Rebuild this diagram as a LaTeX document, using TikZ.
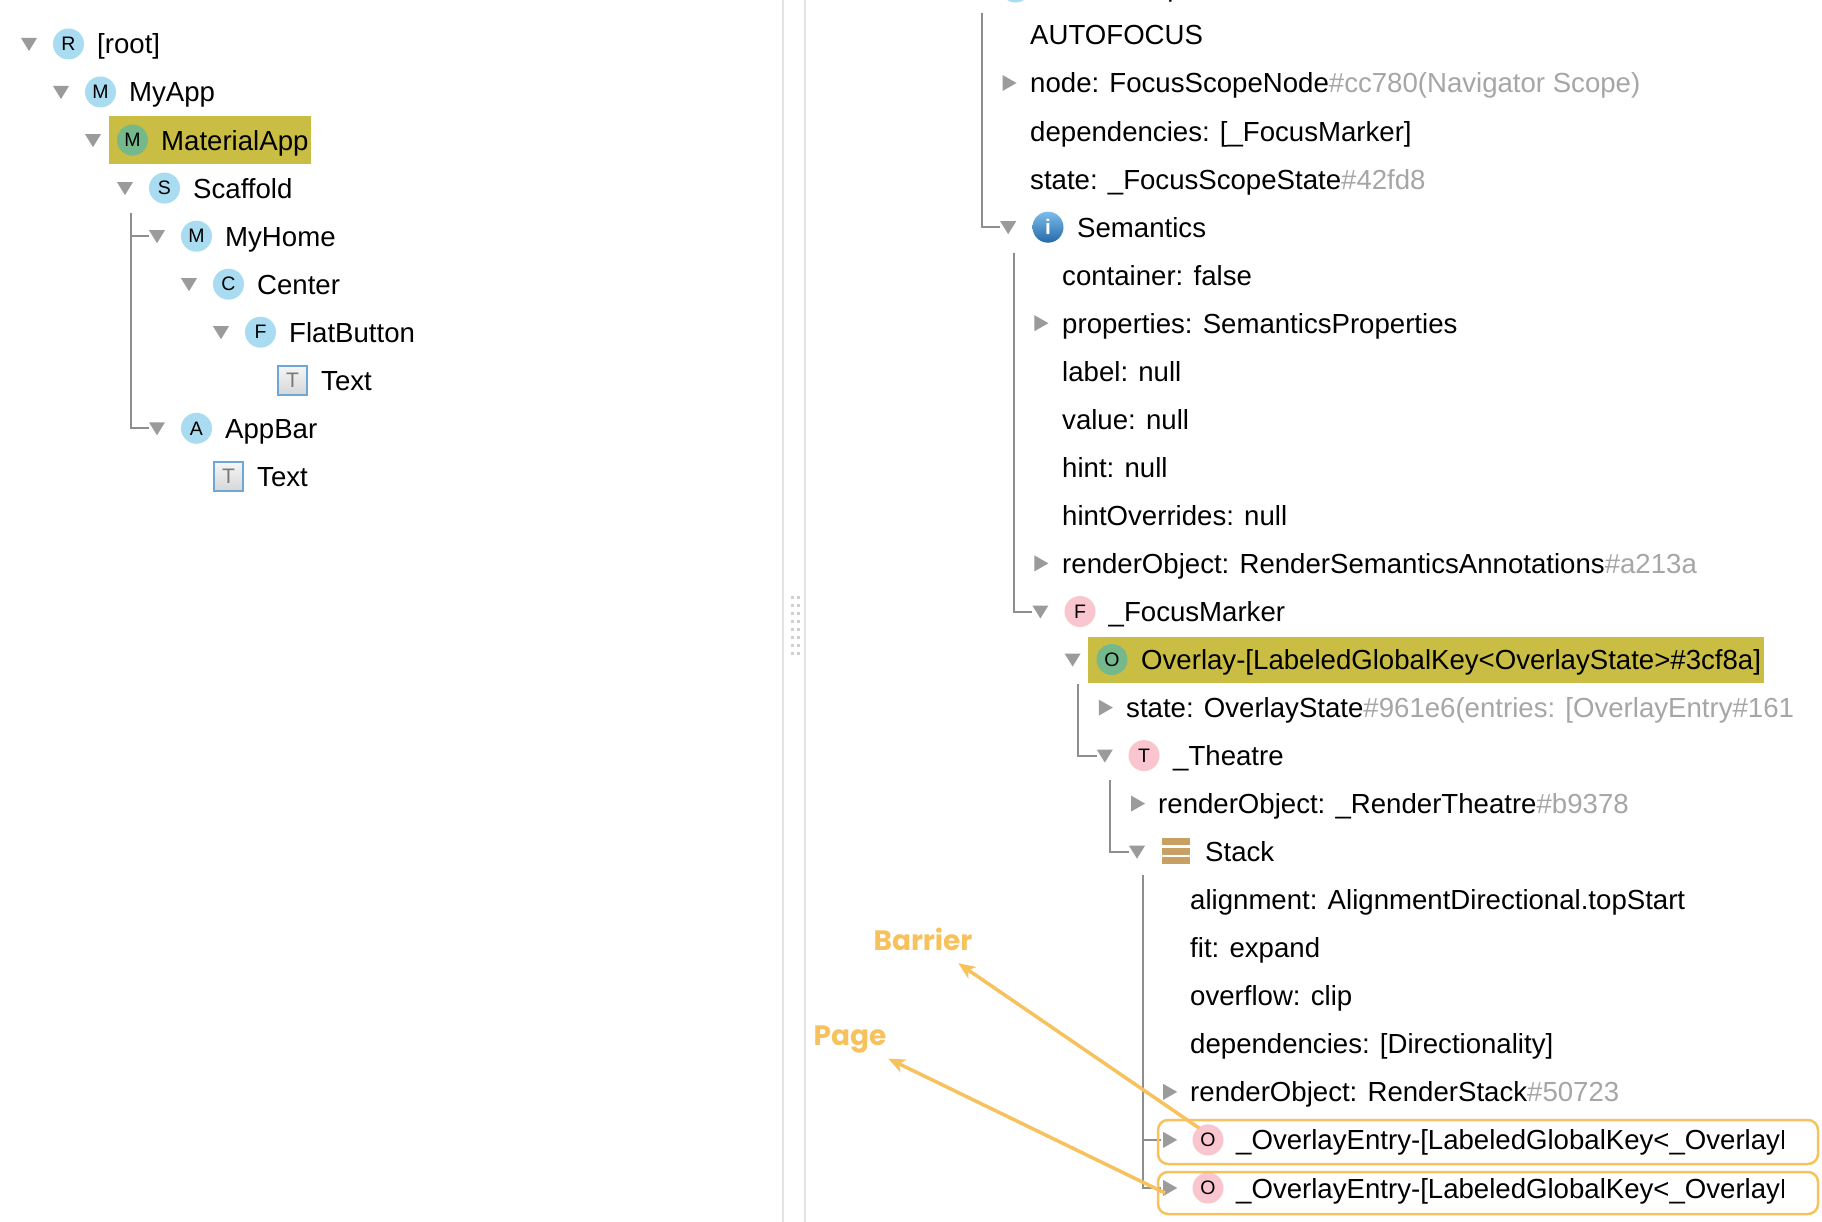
\documentclass[tikz,border=0pt]{standalone}
\usepackage{fontspec}
\setmainfont{Liberation Sans}
\newfontfamily\handfont{Poppins}
\usetikzlibrary{arrows.meta,calc,backgrounds}
\definecolor{trig}{HTML}{9B9B9B}
\definecolor{treeln}{HTML}{8E8E8E}
\definecolor{lblue}{HTML}{A9DBF1}
\definecolor{pinkc}{HTML}{F9C6CF}
\definecolor{hil}{HTML}{C9BD44}
\definecolor{hilc}{HTML}{74B88C}
\definecolor{grayt}{HTML}{A6A6A6}
\definecolor{orng}{HTML}{F7C25E}
\definecolor{divd}{HTML}{E4E4E4}
\definecolor{dotc}{HTML}{CFCFCF}
\definecolor{tboxb}{HTML}{6EA6D6}
\definecolor{tboxa}{HTML}{F6F6F6}
\definecolor{tboxz}{HTML}{D6D6D6}
\definecolor{tgray}{HTML}{7A7A7A}
\definecolor{stackc}{HTML}{C8A064}
\definecolor{infoa}{HTML}{7DBDEB}
\definecolor{infob}{HTML}{2468A8}
\begin{document}
\begin{tikzpicture}[x=1pt,y=-1pt,
  lbl/.style={anchor=base west, inner sep=0pt, font=\fontsize{27.6}{30}\selectfont},
  bubble/.style={circle, minimum size=31pt, inner sep=0pt, font=\fontsize{19.5}{19.5}\selectfont, text=black},
  blue bubble/.style={bubble, fill=lblue},
  pink bubble/.style={bubble, fill=pinkc},
  sel bubble/.style={bubble, fill=hilc},
  tbox/.style={draw=tboxb, line width=1.5pt, minimum size=29pt, inner sep=0pt, top color=tboxa, bottom color=tboxz, text=tgray, font=\fontsize{21}{21}\selectfont},
  treeline/.style={draw=treeln, line width=2pt},
  hand/.style={font=\handfont\bfseries\fontsize{28}{28}\selectfont, text=orng, inner sep=0pt, minimum height=48pt},
  arr/.style={draw=orng, line width=3.5pt, -{Stealth[length=17pt,width=14pt,inset=5pt]}},
  entrybox/.style={draw=orng, line width=2.5pt, rounded corners=10pt},
  tdn/.pic={\fill[trig] (-8,-6) -- (8,-6) -- (0,7) -- cycle;},
  trt/.pic={\fill[trig] (-6,-8) -- (-6,8) -- (8,0) -- cycle;}
]
\useasboundingbox (0,0) rectangle (1822,1222);
\clip (0,0) rectangle (1822,1222);
\begin{scope}[on background layer]
  \fill[white] (0,0) rectangle (1822,1222);
\end{scope}

% ---------- panel divider ----------
\draw[divd, line width=2.5pt] (783,0) -- (783,1222);
\draw[divd, line width=2.5pt] (805,0) -- (805,1222);
\foreach \yy in {597,605,613,621,629,637,645,653}{
  \fill[dotc] (790.5,\yy-1.5) rectangle +(3,3);
  \fill[dotc] (796.5,\yy-1.5) rectangle +(3,3);
}

% ---------- left tree ----------
\pic at (29,44) {tdn};
\node[blue bubble] (c-root) at (68.5,44) {R};
\node[lbl] (t-root) at (97,54) {\relax[root]};

\pic at (61,92) {tdn};
\node[blue bubble] (c-myapp) at (100.5,92) {M};
\node[lbl] (t-myapp) at (129,102) {MyApp};

\pic at (93,140.1) {tdn};
\node[sel bubble] (c-mat) at (132.5,140.1) {M};
\node[lbl] (t-mat) at (161,150.1) {MaterialApp};

\pic at (125,188.1) {tdn};
\node[blue bubble] (c-scaf) at (164.5,188.1) {S};
\node[lbl] (t-scaf) at (193,198.1) {Scaffold};

\pic at (157,236.2) {tdn};
\node[blue bubble] (c-home) at (196.5,236.2) {M};
\node[lbl] (t-home) at (225,246.2) {MyHome};

\pic at (189,284.2) {tdn};
\node[blue bubble] (c-center) at (228.5,284.2) {C};
\node[lbl] (t-center) at (257,294.2) {Center};

\pic at (221,332.2) {tdn};
\node[blue bubble] (c-flat) at (260.5,332.2) {F};
\node[lbl] (t-flat) at (289,342.2) {FlatButton};

\node[tbox] (b-text1) at (292.5,380.3) {T};
\node[lbl] (t-text1) at (321,390.3) {Text};

\pic at (157,428.3) {tdn};
\node[blue bubble] (c-appbar) at (196.5,428.3) {A};
\node[lbl] (t-appbar) at (225,438.3) {AppBar};

\node[tbox] (b-text2) at (228.5,476.4) {T};
\node[lbl] (t-text2) at (257,486.4) {Text};

\coordinate (lt-top) at (130.5,213);
\coordinate (lt-home) at (149,236.2);
\coordinate (lt-appbar) at (149,428.3);
\draw[treeline] (lt-top) |- (lt-appbar);
\draw[treeline] (lt-home -| lt-top) -- (lt-home);

\begin{scope}[on background layer]
  \fill[hil] ($(c-mat.west)+(-8,-24)$) rectangle ($(t-mat.east |- c-mat.center)+(2,24)$);
\end{scope}

% ---------- right tree ----------
\begin{scope}
\clip (806,-20) rectangle (1793,1240);

\node[blue bubble] (c-fs) at (1015.5,-13) {F};
\node[lbl] (t-fs) at (1044.5,-3) {FocusScope};

\node[lbl] (p-auto) at (1030,45) {AUTOFOCUS};
\pic at (1008.5,83) {trt};
\node[lbl] (p-node) at (1030,93) {node: FocusScopeNode\textcolor{grayt}{\#cc780(Navigator Scope)}};
\node[lbl] (p-dep) at (1030,141.1) {dependencies: [\_FocusMarker]};
\node[lbl] (p-state) at (1030,189.1) {state: \_FocusScopeState\textcolor{grayt}{\#42fd8}};

\pic at (1008.2,227.2) {tdn};
\node[circle, minimum size=31pt, inner sep=0pt, top color=infoa, bottom color=infob, text=white, font=\bfseries\fontsize{21}{21}\selectfont] (c-sem) at (1048,227.2) {i};
\node[lbl] (t-sem) at (1077,237.2) {Semantics};

\node[lbl] (p-cont) at (1062,285.2) {container: false};
\pic at (1040.4,323.2) {trt};
\node[lbl] (p-prop) at (1062,333.2) {properties: SemanticsProperties};
\node[lbl] (p-label) at (1062,381.3) {label: null};
\node[lbl] (p-value) at (1062,429.3) {value: null};
\node[lbl] (p-hint) at (1062,477.4) {hint: null};
\node[lbl] (p-hinto) at (1062,525.4) {hintOverrides: null};
\pic at (1040.4,563.4) {trt};
\node[lbl] (p-ro1) at (1062,573.4) {renderObject: RenderSemanticsAnnotations\textcolor{grayt}{\#a213a}};

\pic at (1040.4,611.5) {tdn};
\node[pink bubble] (c-fm) at (1080,611.5) {F};
\node[lbl] (t-fm) at (1108.5,621.5) {\_FocusMarker};

\pic at (1072.6,659.5) {tdn};
\node[sel bubble] (c-ov) at (1112,659.5) {O};
\node[lbl] (t-ov) at (1141,669.5) {Overlay-[LabeledGlobalKey<OverlayState>\#3cf8a]};

\pic at (1104.8,707.6) {trt};
\node[lbl] (p-ostate) at (1126,717.6) {state: OverlayState\textcolor{grayt}{\#961e6(entries: [OverlayEntry\#161f3(opaque: true)]}};

\pic at (1104.8,755.6) {tdn};
\node[pink bubble] (c-th) at (1144,755.6) {T};
\node[lbl] (t-th) at (1173,765.6) {\_Theatre};

\pic at (1137,803.6) {trt};
\node[lbl] (p-ro2) at (1158,813.6) {renderObject: \_RenderTheatre\textcolor{grayt}{\#b9378}};

\pic at (1137,851.7) {tdn};
\fill[stackc] (1162,838) rectangle (1190,845);
\fill[stackc] (1162,847.5) rectangle (1190,854.5);
\fill[stackc] (1162,857) rectangle (1190,864);
\node[lbl] (t-stack) at (1205,861.7) {Stack};

\node[lbl] (p-align) at (1190,909.7) {alignment: AlignmentDirectional.topStart};
\node[lbl] (p-fit) at (1190,957.8) {fit: expand};
\node[lbl] (p-over) at (1190,1005.8) {overflow: clip};
\node[lbl] (p-dep2) at (1190,1053.8) {dependencies: [Directionality]};
\pic at (1169.2,1091.9) {trt};
\node[lbl] (p-ro3) at (1190,1101.9) {renderObject: RenderStack\textcolor{grayt}{\#50723}};

\pic at (1169.2,1139.9) {trt};
\node[pink bubble] (c-oe1) at (1208,1139.9) {O};
\pic at (1169.2,1188) {trt};
\node[pink bubble] (c-oe2) at (1208,1188) {O};
\begin{scope}
\clip (806,1100) rectangle (1783.5,1240);
\node[lbl] (t-oe1) at (1236,1149.9) {\_OverlayEntry-[LabeledGlobalKey<\_OverlayEntryWidgetState>]};
\node[lbl] (t-oe2) at (1236,1198) {\_OverlayEntry-[LabeledGlobalKey<\_OverlayEntryWidgetState>]};
\end{scope}
\end{scope}

\begin{scope}[on background layer]
  \fill[hil] ($(c-ov.west)+(-8,-23)$) rectangle ($(t-ov.east |- c-ov.center)+(3,23)$);
\end{scope}

% tree lines (right)
\coordinate (r1-top) at (981.5,13);
\coordinate (r1-end) at (1000,227.2);
\draw[treeline] (r1-top) |- (r1-end);
\coordinate (r2-top) at (1013.7,253);
\coordinate (r2-end) at (1032,611.5);
\draw[treeline] (r2-top) |- (r2-end);
\coordinate (r3-top) at (1078,684);
\coordinate (r3-end) at (1097,755.6);
\draw[treeline] (r3-top) |- (r3-end);
\coordinate (r4-top) at (1110.3,780);
\coordinate (r4-end) at (1129,851.7);
\draw[treeline] (r4-top) |- (r4-end);
\coordinate (r5-top) at (1142.5,875);
\coordinate (r5-mid) at (1161,1139.9);
\coordinate (r5-end) at (1161,1188);
\draw[treeline] (r5-top) |- (r5-end);
\draw[treeline] (r5-mid -| r5-top) -- (r5-mid);

% highlighted overlay entries
\draw[entrybox] (1158,1120) rectangle (1818,1164);
\draw[entrybox] (1158,1172) rectangle (1818,1214);

% annotations
\node[hand, minimum width=80pt] (barrier) at (923,939) {Barrier};
\node[hand, minimum width=76pt] (page) at (850,1040) {Page};
\coordinate (bstart) at (1199,1128);
\coordinate (pstart) at (1165,1193);
\draw[arr] (bstart) -- (barrier);
\draw[arr] (pstart) -- (page);
\end{tikzpicture}
\end{document}
